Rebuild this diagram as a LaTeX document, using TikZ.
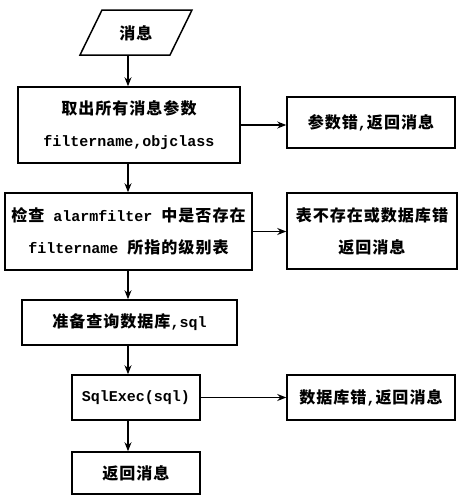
\documentclass[tikz,border=0pt]{standalone}
\usepackage{fontspec}
\setmainfont{Liberation Mono}
\newfontfamily\cjk{Noto Sans CJK SC}[Scale=1.07,LetterSpace=6]
\usetikzlibrary{arrows.meta}
\begin{document}
\begin{tikzpicture}[x=1pt,y=-1pt,
  box/.style={draw,line width=1.5pt,inner sep=0pt,align=center,
    font=\fontsize{15}{32}\selectfont\bfseries},
  conn/.style={line width=1.2pt,-{Stealth[length=9pt,width=7pt]}}]
\useasboundingbox (0,0) rectangle (463,496);
% input parallelogram
\coordinate (p1) at (102,10);
\coordinate (p2) at (192,10);
\coordinate (p3) at (170,55);
\coordinate (p4) at (80,55);
\draw[line width=1.5pt] (p1) -- (p2) -- (p3) -- (p4) -- cycle;
\node[font=\fontsize{15}{18}\selectfont\bfseries] (msg) at (136,33) {\cjk 消息};
\coordinate (msgout) at (128,55);
% main column
\node[box,minimum width=222pt,minimum height=76pt] (b1) at (129,125)
  {{\cjk 取出所有消息参数}\\filtername,objclass};
\node[box,minimum width=247pt,minimum height=77pt] (b2) at (128.5,231.5)
  {{\cjk 检查} alarmfilter {\cjk 中是否存在}\\filtername {\cjk 所指的级别表}};
\node[box,minimum width=215pt,minimum height=45pt] (b3) at (129.5,322.5)
  {{\cjk 准备查询数据库},sql};
\node[box,minimum width=128pt,minimum height=45pt] (b4) at (136,397.5)
  {SqlExec(sql)};
\node[box,minimum width=128pt,minimum height=42pt] (b5) at (136,473)
  {\cjk 返回消息};
% right column
\node[box,minimum width=168pt,minimum height=51pt] (r1) at (371,122.5)
  {{\cjk 参数错},{\cjk 返回消息}};
\node[box,minimum width=170pt,minimum height=76pt] (r2) at (372,231)
  {{\cjk 表不存在或数据库错}\\{\cjk 返回消息}};
\node[box,minimum width=168pt,minimum height=45pt] (r3) at (371,397.5)
  {{\cjk 数据库错},{\cjk 返回消息}};
% vertical connectors along x=128
\coordinate (sp) at (128,0);
\draw[conn] (msgout) -- (b1.north -| sp);
\draw[conn] (b1.south -| sp) -- (b2.north -| sp);
\draw[conn] (b2.south -| sp) -- (b3.north -| sp);
\draw[conn] (b3.south -| sp) -- (b4.north -| sp);
\draw[conn] (b4.south -| sp) -- (b5.north -| sp);
% horizontal connectors
\draw[conn] (b1.east) -- (b1.east -| r1.west);
\draw[conn] (b2.east) -- (b2.east -| r2.west);
\draw[conn] (b4.east) -- (b4.east -| r3.west);
\end{tikzpicture}
\end{document}
